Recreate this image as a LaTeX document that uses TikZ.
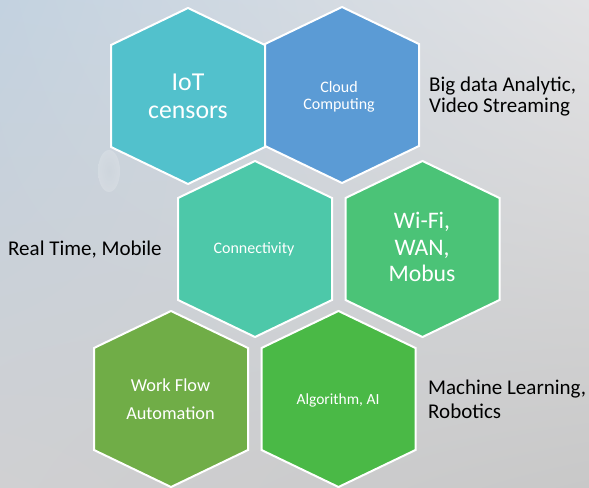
\documentclass[tikz,border=0pt]{standalone}
\usepackage{fontspec}
\setmainfont{Carlito}
\usetikzlibrary{shadings}
\definecolor{cIoT}{HTML}{52C1CC}
\definecolor{cCloud}{HTML}{5B9BD5}
\definecolor{cConn}{HTML}{4DC8A9}
\definecolor{cWifi}{HTML}{4BC377}
\definecolor{cWork}{HTML}{70AD47}
\definecolor{cAlgo}{HTML}{4AB946}
\definecolor{bgUL}{HTML}{C3D2E0}
\definecolor{bgUR}{HTML}{E2E2E4}
\definecolor{bgLL}{HTML}{D0D0D2}
\definecolor{bgLR}{HTML}{C8C8C8}
\definecolor{dropIn}{HTML}{D4DAE0}
\definecolor{dropOut}{HTML}{E6EAEE}
\tikzset{
  hexshape/.style={draw=white, line width=2bp, line join=miter},
  intext/.style={text=white, inner sep=0pt, align=center, anchor=base},
  outtext/.style={text=black, inner sep=0pt, align=left, anchor=base west},
}
\newcommand\myhex[4]{%
  \filldraw[hexshape, fill=#3] (#1,#2) ++(0,-88) coordinate (#4-top)
    -- ++(77,37) -- ++(0,102) -- ++(-77,37) coordinate (#4-bottom)
    -- ++(-77,-37) -- ++(0,-102) -- cycle;}
\begin{document}
\begin{tikzpicture}[x=1bp, y=-1bp]
\useasboundingbox (0,0) rectangle (589,488);
\shade[upper left=bgUL, upper right=bgUR, lower left=bgLL, lower right=bgLR]
  (0,0) rectangle (589,488);
% droplet
\shade[inner color=dropIn, outer color=dropOut, opacity=0.35]
  (109,171) ellipse [x radius=11, y radius=21];
% hexagons
\myhex{188}{96}{cIoT}{iot}
\myhex{342}{95}{cCloud}{cloud}
\myhex{255}{249}{cConn}{conn}
\myhex{422.5}{249}{cWifi}{wifi}
\myhex{171}{399}{cWork}{work}
\myhex{338.5}{399}{cAlgo}{algo}
% inner texts (base = last line)
\node[intext, font=\fontsize{25.8bp}{28bp}\selectfont] (tIoT) at (188,118.5) {IoT\\censors};
\node[intext, font=\fontsize{16bp}{17bp}\selectfont] (tCloud) at (339,110) {Cloud\\Computing};
\node[intext, font=\fontsize{16bp}{18bp}\selectfont] (tConn) at (254,253) {Connectivity};
\node[intext, font=\fontsize{23.7bp}{26bp}\selectfont] (tWifi) at (422,281) {Wi-Fi,\\WAN,\\Mobus};
\node[intext, font=\fontsize{18.3bp}{28bp}\selectfont] (tWork) at (170.5,419) {Work Flow\\Automation};
\node[intext, font=\fontsize{15.5bp}{18bp}\selectfont] (tAlgo) at (338,404.5) {Algorithm, AI};
% outer texts
\node[outtext, font=\fontsize{21bp}{21.5bp}\selectfont] (tBig) at (429,113) {Big data Analytic,\\Video Streaming};
\node[outtext, font=\fontsize{21bp}{24bp}\selectfont] (tReal) at (8,255) {Real Time, Mobile};
\node[outtext, font=\fontsize{21bp}{24bp}\selectfont] (tMach) at (428,418) {Machine Learning,\\Robotics};
\end{tikzpicture}
\end{document}
